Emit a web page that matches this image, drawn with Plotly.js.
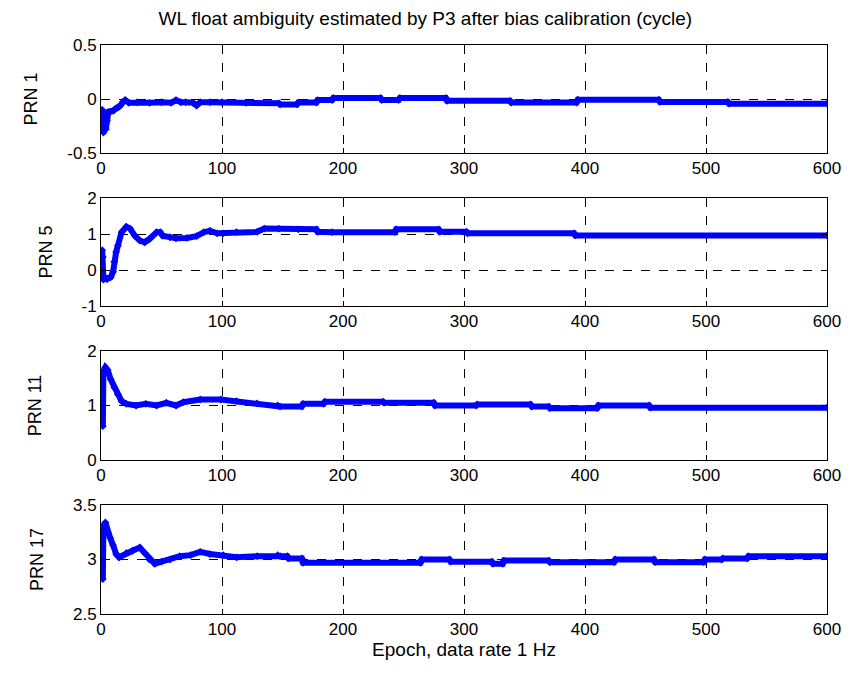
<!DOCTYPE html>
<html>
<head>
<meta charset="utf-8">
<script src="https://cdn.plot.ly/plotly-3.0.1.min.js"></script>
<style>html,body{margin:0;padding:0;background:#fff;}#chart{width:854px;height:675px;}</style>
</head>
<body>
<div id="chart"></div>
<script>
// ---- data ----
const prn1Epoch = [1,2,3,4,5,6,8,10,12,14,16,18,20,23,30,40,50,58,62,66,70,76,79,82,90,100,120,147,148,162,163,178,179,191,192,231,232,246,247,285,286,338,339,393,394,461,462,518,519,600];
const prn1Value = [-0.10,-0.31,-0.26,-0.28,-0.20,-0.12,-0.115,-0.11,-0.09,-0.08,-0.06,-0.03,-0.01,-0.035,-0.03,-0.035,-0.03,-0.035,-0.01,-0.03,-0.03,-0.035,-0.06,-0.03,-0.03,-0.03,-0.035,-0.04,-0.05,-0.05,-0.033,-0.033,-0.01,-0.01,0.01,0.01,-0.01,-0.01,0.01,0.01,-0.017,-0.017,-0.033,-0.033,-0.007,-0.007,-0.027,-0.027,-0.043,-0.043];

const prn5Epoch = [1,1.5,2,3,5,8,10,11,12.5,14,17,21,24,28,32,36,40,46,49,51,57,62,71,79,85,90,96,101,112,129,135,147,163,178,179,191,243,244,279,280,302,303,391,392,600];
const prn5Value = [0.55,0.36,-0.27,-0.2,-0.25,-0.2,-0.05,0.23,0.5,0.68,1.05,1.2,1.15,0.95,0.82,0.77,0.86,1.05,1.05,0.95,0.91,0.88,0.89,0.94,1.05,1.09,1.02,1.02,1.05,1.06,1.15,1.15,1.13,1.13,1.06,1.05,1.05,1.13,1.13,1.06,1.06,1.02,1.02,0.96,0.96];

const prn11Epoch = [1,1.5,2,3.6,5.5,8,11,14,17,21,29,37,46,54,62,68,82,99,112,129,146,148,166,167,184,185,233,234,275,276,310,311,355,356,370,371,410,411,453,454,600];
const prn11Value = [1.54,0.62,1.63,1.7,1.65,1.48,1.33,1.2,1.08,1.03,1.0,1.03,1.0,1.05,1.0,1.06,1.11,1.11,1.08,1.04,1.0,0.98,0.98,1.03,1.03,1.07,1.07,1.05,1.05,1.0,1.0,1.02,1.02,0.98,0.98,0.95,0.95,1.0,1.0,0.96,0.96];

const prn17Epoch = [1,1.5,2,3.6,5.5,7.5,10,12.5,15,21,26,32,36,40,44.5,50,57,65,74,82,90,101,112,129,146,148,154,155,166,167,264,265,288,289,323,324,332,333,370,371,424,425,457,458,498,499,513,514,534,535,600];
const prn17Value = [3.23,2.82,3.31,3.34,3.25,3.2,3.13,3.05,3.02,3.06,3.08,3.11,3.06,3.0,2.96,2.98,3.0,3.03,3.04,3.07,3.05,3.04,3.02,3.03,3.04,3.03,3.03,3.01,3.01,2.97,2.97,3.0,3.0,2.98,2.98,2.96,2.96,2.99,2.99,2.975,2.975,3.0,3.0,2.975,2.975,3.0,3.0,3.01,3.01,3.03,3.03];

const panelNames = ['PRN 1','PRN 5','PRN 11','PRN 17'];
const xTicks = [0,100,200,300,400,500,600];
const xTickText = ['0','100','200','300','400','500','600'];
const yTicks1 = [-0.5,0,0.5], yTickText1 = ['-0.5','0','0.5'];
const yTicks2 = [-1,0,1,2],   yTickText2 = ['-1','0','1','2'];
const yTicks3 = [0,1,2],      yTickText3 = ['0','1','2'];
const yTicks4 = [2.5,3,3.5],  yTickText4 = ['2.5','3','3.5'];
const titleText = 'WL float ambiguity estimated by P3 after bias calibration (cycle)';
const xTitleText = 'Epoch, data rate 1 Hz';

// ---- drawing ----
const FONT = 'Liberation Sans, Arial, sans-serif';
const series = [[prn1Epoch,prn1Value],[prn5Epoch,prn5Value],[prn11Epoch,prn11Value],[prn17Epoch,prn17Value]];
const traces = series.map((s,i)=>({
  x: s[0], y: s[1], type:'scatter', mode:'lines+markers',
  xaxis: i===0?'x':'x'+(i+1), yaxis: i===0?'y':'y'+(i+1),
  line:{color:'#0000ff', width:6},
  marker:{color:'#0000ff', size:6, symbol:'diamond'},
  showlegend:false, hoverinfo:'skip'
}));

const domains = [[0.8102,1],[0.5413,0.7311],[0.2707,0.4622],[0,0.1916]];
const yRanges = [[-0.5,0.5],[-1,2],[0,2],[2.5,3.5]];
const yT = [[yTicks1,yTickText1],[yTicks2,yTickText2],[yTicks3,yTickText3],[yTicks4,yTickText4]];
const yStandoff = [24,24,40,24];

const axisCommon = {
  showline:true, linecolor:'#000', linewidth:1, mirror:'ticks',
  ticks:'inside', ticklen:5, tickcolor:'#000', tickwidth:1,
  showgrid:true, gridcolor:'#000', griddash:'dash', gridwidth:1,
  zeroline:false, tickfont:{family:FONT, size:17, color:'#000'},
  fixedrange:true
};

const layout = {
  width:854, height:675,
  margin:{l:101, r:27, t:45, b:61},
  paper_bgcolor:'#fff', plot_bgcolor:'#fff',
  title:{text:titleText, font:{family:FONT, size:19, color:'#000'}, x:0.498, xanchor:'center', y:0.973, yanchor:'middle', yref:'container'},
  showlegend:false
};
for (let i=0;i<4;i++){
  const xs = i===0?'xaxis':'xaxis'+(i+1);
  const ys = i===0?'yaxis':'yaxis'+(i+1);
  layout[xs] = Object.assign({}, axisCommon, {
    domain:[0,1], anchor: i===0?'y':'y'+(i+1), range:[0,600],
    tickmode:'array', tickvals:xTicks, ticktext:xTickText
  });
  if (i===3) layout[xs].title = {text:xTitleText, font:{family:FONT, size:19, color:'#000'}, standoff:2};
  layout[ys] = Object.assign({}, axisCommon, {
    domain:domains[i], anchor: i===0?'x':'x'+(i+1), range:yRanges[i],
    tickmode:'array', tickvals:yT[i][0], ticktext:yT[i][1],
    title:{text:panelNames[i], font:{family:FONT, size:18, color:'#000'}, standoff:yStandoff[i]}
  });
}
Plotly.newPlot('chart', traces, layout, {displayModeBar:false, staticPlot:true});
</script>
</body>
</html>
